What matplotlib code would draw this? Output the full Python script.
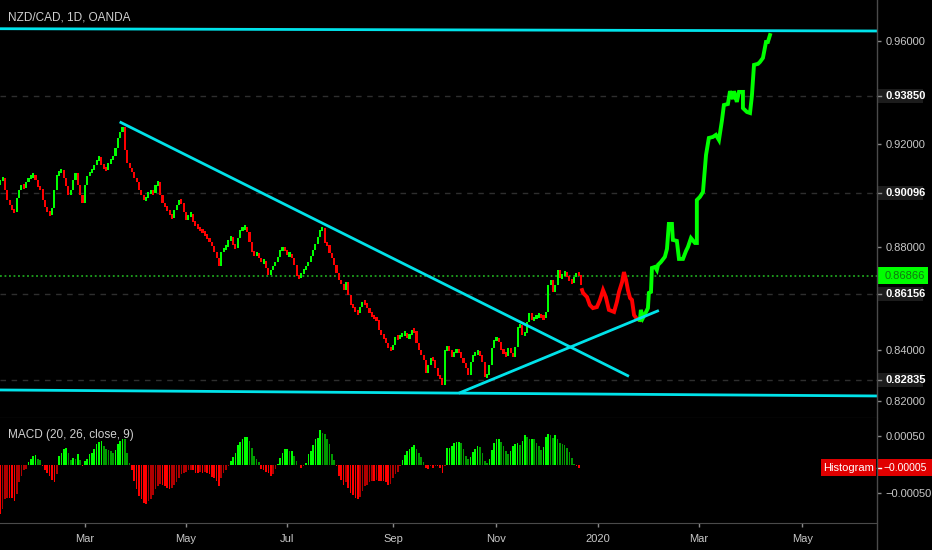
import numpy as np
import pandas as pd
import matplotlib.pyplot as plt
import matplotlib.transforms as mtransforms
from matplotlib.patches import Rectangle
from matplotlib.lines import Line2D

plt.rcParams['font.family'] = ['Liberation Sans', 'DejaVu Sans']

# daily closes, NZD/CAD (first bar = 2019-01-10)
first_open = 0.9040
closes = np.array([
    0.9059, 0.9067, 0.9020, 0.8981, 0.8962, 0.8942, 0.8934, 0.8989, 0.9020, 0.9039,
    0.9028, 0.9051, 0.9067, 0.9074, 0.9078, 0.9059, 0.9032, 0.9024, 0.8981, 0.8954,
    0.8934, 0.8923, 0.8950, 0.9020, 0.9078, 0.9090, 0.9098, 0.9067, 0.9035, 0.9001,
    0.9020, 0.9059, 0.9086, 0.9039, 0.9001, 0.8969, 0.9039, 0.9074, 0.9090, 0.9098,
    0.9117, 0.9136, 0.9148, 0.9117, 0.9105, 0.9098, 0.9125, 0.9136, 0.9152, 0.9183,
    0.9222, 0.9245, 0.9265, 0.9175, 0.9125, 0.9105, 0.9090, 0.9067, 0.9051, 0.9020,
    0.9001, 0.8981, 0.8989, 0.9012, 0.9012, 0.9008, 0.9039, 0.9051, 0.9001, 0.8969,
    0.8954, 0.8942, 0.8923, 0.8911, 0.8942, 0.8962, 0.8981, 0.8969, 0.8934, 0.8903,
    0.8923, 0.8927, 0.8896, 0.8884, 0.8872, 0.8865, 0.8857, 0.8845, 0.8833, 0.8818,
    0.8802, 0.8779, 0.8756, 0.8725, 0.8779, 0.8795, 0.8798, 0.8826, 0.8837, 0.8806,
    0.8795, 0.8833, 0.8865, 0.8872, 0.8876, 0.8857, 0.8818, 0.8779, 0.8767, 0.8775,
    0.8756, 0.8740, 0.8744, 0.8717, 0.8690, 0.8709, 0.8725, 0.8740, 0.8760, 0.8787,
    0.8795, 0.8787, 0.8767, 0.8771, 0.8756, 0.8729, 0.8686, 0.8678, 0.8697, 0.8709,
    0.8725, 0.8740, 0.8763, 0.8787, 0.8810, 0.8837, 0.8865, 0.8872, 0.8814, 0.8806,
    0.8775, 0.8756, 0.8729, 0.8697, 0.8670, 0.8655, 0.8631, 0.8662, 0.8612, 0.8573,
    0.8565, 0.8546, 0.8542, 0.8565, 0.8585, 0.8581, 0.8561, 0.8542, 0.8530, 0.8523,
    0.8515, 0.8476, 0.8456, 0.8445, 0.8425, 0.8406, 0.8398, 0.8418, 0.8449, 0.8445,
    0.8453, 0.8460, 0.8464, 0.8445, 0.8456, 0.8476, 0.8472, 0.8425, 0.8398, 0.8379,
    0.8359, 0.8309, 0.8340, 0.8367, 0.8359, 0.8328, 0.8297, 0.8289, 0.8262, 0.8398,
    0.8410, 0.8398, 0.8371, 0.8390, 0.8398, 0.8390, 0.8367, 0.8348, 0.8328, 0.8301,
    0.8352, 0.8379, 0.8387, 0.8390, 0.8379, 0.8352, 0.8293, 0.8301, 0.8340, 0.8406,
    0.8437, 0.8445, 0.8429, 0.8398, 0.8387, 0.8375, 0.8406, 0.8387, 0.8371, 0.8410,
    0.8488, 0.8495, 0.8456, 0.8464, 0.8507, 0.8542, 0.8515, 0.8523, 0.8530, 0.8534,
    0.8526, 0.8523, 0.8546, 0.8651, 0.8670, 0.8624, 0.8651, 0.8709, 0.8678, 0.8690,
    0.8701, 0.8682, 0.8670, 0.8659, 0.8682, 0.8697, 0.8690, 0.8651,
])

# MACD histogram, units of 1e-5
macd_hist_e5 = np.array([
    -86, -77, -59, -58, -58, -58, -63, -51, -31, -19,
    -10, -7, 5, 10, 16, 17, 10, 9, -2, -9,
    -14, -19, -26, -31, -17, 16, 21, 28, 30, 21,
    9, 12, 10, 19, 9, -2, 7, 10, 19, 21,
    28, 37, 40, 42, 33, 28, 26, 24, 21, 26,
    37, 42, 45, 44, 21, 3, -10, -28, -42, -54,
    -59, -66, -68, -63, -59, -52, -42, -37, -33, -35,
    -37, -40, -42, -40, -35, -31, -24, -16, -14, -12,
    -10, -9, -10, -14, -14, -12, -14, -12, -14, -16,
    -21, -24, -28, -37, -24, -14, -9, -2, 7, 14,
    21, 35, 40, 44, 49, 49, 42, 30, 16, 10,
    5, -7, -10, -12, -14, -19, -16, -7, 2, 12,
    21, 28, 28, 24, 24, 16, 7, 0, -5, -2,
    3, 19, 24, 35, 45, 47, 61, 56, 54, 45,
    37, 19, 9, -3, -19, -26, -35, -31, -40, -49,
    -52, -58, -59, -56, -45, -38, -35, -30, -28, -28,
    -26, -28, -28, -28, -30, -35, -33, -24, -16, -12,
    -3, 9, 17, 24, 28, 31, 35, 28, 21, 14,
    5, -5, -7, -3, -5, -2, -2, -5, -14, -2,
    30, 30, 33, 38, 40, 40, 38, 28, 16, 10,
    14, 23, 28, 33, 31, 21, 7, 3, 10, 26,
    38, 44, 44, 40, 33, 24, 19, 24, 33, 37,
    38, 35, 42, 51, 49, 45, 45, 44, 38, 33,
    26, 31, 49, 54, 51, 47, 52, 44, 38, 37,
    35, 30, 23, 12, 1, -2, -5,
])

# hand-drawn projection paths (x in bar number from 2019-01-07)
red_path_x = [250.4, 250.8, 252.5, 253.7, 255.0, 256.7, 258.0, 259.3, 260.5, 261.8, 264.0,
              265.2, 266.1, 267.4, 268.2, 269.1, 269.9, 270.8, 271.6, 272.5, 273.7, 275.0]
red_path_y = [0.8631, 0.8620, 0.8604, 0.8573, 0.8561, 0.8565, 0.8593, 0.8631, 0.8604, 0.8554, 0.8546,
              0.8585, 0.8624, 0.8662, 0.8701, 0.8670, 0.8631, 0.8600, 0.8593, 0.8534, 0.8519, 0.8515]
green_path_x = [275.0, 275.4, 276.3, 277.6, 278.4, 278.8, 279.7, 280.1, 281.4, 282.2, 282.7, 283.9,
                285.6, 286.5, 287.3, 288.6, 289.0, 290.7, 291.6, 293.3, 294.6, 295.4, 296.7, 298.4,
                299.2, 299.2, 300.5, 301.8, 303.1, 304.3, 306.0, 307.3, 308.6, 309.9, 310.7, 312.4,
                313.3, 314.5, 315.0, 316.2, 317.1, 318.8, 318.8, 320.5, 321.8, 322.6, 323.5, 325.2,
                326.0, 327.3, 328.6, 329.4, 330.3]
green_path_y = [0.8515, 0.8554, 0.8523, 0.8546, 0.8561, 0.8620, 0.8624, 0.8717, 0.8721, 0.8709, 0.8729, 0.8740,
                0.8760, 0.8791, 0.8888, 0.8888, 0.8826, 0.8822, 0.8752, 0.8752, 0.8783, 0.8798, 0.8833, 0.8814,
                0.8814, 0.8981, 0.8993, 0.9012, 0.9156, 0.9222, 0.9226, 0.9234, 0.9214, 0.9292, 0.9350, 0.9354,
                0.9404, 0.9373, 0.9404, 0.9362, 0.9401, 0.9401, 0.9338, 0.9323, 0.9319, 0.9385, 0.9506, 0.9510,
                0.9517, 0.9533, 0.9595, 0.9595, 0.9622]

# trend lines: (x0, x1), (y0, y1)
trend_lines = [
    ((2.9, 375.8), (0.96466, 0.96377)),
    ((54.3, 269.8), (0.92822, 0.82983)),
    ((198.5, 282.5), (0.82323, 0.85497)),
    ((2.9, 375.8), (0.82428, 0.82195)),
]

price_ticks = [0.82, 0.84, 0.88, 0.92, 0.96]
level_prices = [0.93850, 0.90096, 0.86156, 0.82835]
last_price = 0.86866
macd_ticks = [0.0005, -0.0005]
macd_tick_labels = ['0.00050', '\u22120.00050']
hist_last_label = '\u22120.00005'
month_starts = ['2019-03-01', '2019-05-01', '2019-07-01', '2019-09-01',
                '2019-11-01', '2020-01-01', '2020-03-01', '2020-05-01']
month_labels = ['Mar', 'May', 'Jul', 'Sep', 'Nov', '2020', 'Mar', 'May']

GREEN = '#00ff00'
RED = '#ff0000'
CYAN = '#00e3ea'
TXT = '#c8c8c8'
TICK = '#8a8a8a'
SEP = '#4a4a4a'

bars = pd.bdate_range('2019-01-07', periods=400)
month_idx = bars.searchsorted(pd.to_datetime(month_starts))

candle_x = np.arange(3, 3 + len(closes))
opens = np.r_[first_open, closes[:-1]]
up = closes >= opens
body = np.maximum(np.abs(closes - opens), 0.0018)
mid = (opens + closes) / 2
low_side = mid - body / 2

fig = plt.figure(figsize=(9.32, 5.5), dpi=100, facecolor='black')
ax = fig.add_axes([0, 132 / 550, 877 / 932, 418 / 550], facecolor='black')
ax2 = fig.add_axes([0, 27 / 550, 877 / 932, 105 / 550], facecolor='black')

# price panel
for p in level_prices:
    ax.axhline(p, color='#2e2e2e', lw=1, ls=(0, (4, 4)), zorder=1)
ax.axhline(last_price, color='#1fa51f', lw=1.3, ls=(0, (1, 1.5)), zorder=1)

ax.bar(candle_x, body, bottom=low_side, width=0.9,
       color=np.where(up, GREEN, RED), linewidth=0, zorder=2)
ax.plot(red_path_x, red_path_y, color=RED, lw=2.8, solid_joinstyle='miter', zorder=3)
ax.plot(green_path_x, green_path_y, color=GREEN, lw=2.8, solid_joinstyle='miter', zorder=3)

for xs, ys in trend_lines:
    ax.plot(xs, ys, color=CYAN, lw=2, zorder=4)

ax.set_xlim(2.9, 375.8)
ax.set_ylim(0.81339, 0.975814)
ax.yaxis.tick_right()
ax.set_yticks(price_ticks)
ax.set_yticklabels([f'{v:.5f}' for v in price_ticks])
ax.tick_params(axis='y', colors=TICK, labelcolor=TXT, length=3, width=1, pad=3, labelsize=8)
ax.tick_params(axis='x', bottom=False, labelbottom=False)
for s in ['top', 'left', 'right']:
    ax.spines[s].set_visible(False)
ax.spines['bottom'].set_color(SEP)

trans = mtransforms.blended_transform_factory(ax.transAxes, ax.transData)
h = 14 * 0.00038856
for p in level_prices:
    ax.add_patch(Rectangle((1.0, p - h / 2), 46 / 877, h, transform=trans,
                           facecolor='#1c1c1c', edgecolor='none', clip_on=False, zorder=5))
    ax.plot([1.0, 1.0 + 4 / 877], [p, p], transform=trans, color=TICK, lw=1,
            clip_on=False, zorder=6)
    ax.text(1.0 + 8 / 877, p, f'{p:.5f}', transform=trans, color='white', fontsize=8,
            fontweight='bold', va='center', ha='left', zorder=6)

h2 = 17 * 0.00038856
ax.add_patch(Rectangle((1.0, last_price - h2 / 2), 51 / 877, h2, transform=trans,
                       facecolor=GREEN, edgecolor='none', clip_on=False, zorder=5))
ax.text(1.0 + 8 / 877, last_price, f'{last_price:.5f}', transform=trans, color='#127512',
        fontsize=8, va='center', ha='left', zorder=6)

# MACD panel
hist = macd_hist_e5 * 1e-5
prev = np.r_[hist[0], hist[:-1]]
hist_colors = np.where(hist >= 0,
                       np.where(hist >= prev, '#00ff00', '#009a00'),
                       np.where(hist <= prev, '#ff0000', '#b00000'))
ax2.bar(np.arange(3, 3 + len(hist)), hist, width=0.7, color=hist_colors, linewidth=0)

ax2.set_xlim(2.9, 375.8)
ax2.set_ylim(-0.001017, 0.000815)
ax2.yaxis.tick_right()
ax2.set_yticks(macd_ticks)
ax2.set_yticklabels(macd_tick_labels)
ax2.tick_params(axis='y', colors=TICK, labelcolor=TXT, length=3, width=1, pad=3, labelsize=8)
ax2.set_xticks(month_idx)
ax2.set_xticklabels(month_labels)
ax2.tick_params(axis='x', colors=TICK, labelcolor=TXT, length=3, width=1, pad=5, labelsize=8)
for s in ['top', 'left', 'right']:
    ax2.spines[s].set_visible(False)
ax2.spines['bottom'].set_color(SEP)

trans2 = mtransforms.blended_transform_factory(ax2.transAxes, ax2.transData)
hv = hist[-1]
hh = 17 * 1.745e-5
ax2.add_patch(Rectangle((821 / 877, hv - hh / 2), 55 / 877, hh, transform=trans2,
                        facecolor='#e00000', edgecolor='none', clip_on=False, zorder=5))
ax2.text(848.5 / 877, hv, 'Histogram', transform=trans2, color='white', fontsize=8,
         va='center', ha='center', zorder=6)
ax2.add_patch(Rectangle((1.0, hv - hh / 2), 55 / 877, hh, transform=trans2,
                        facecolor='#e00000', edgecolor='none', clip_on=False, zorder=5))
ax2.plot([1.0, 1.0 + 4 / 877], [hv, hv], transform=trans2, color='white', lw=1,
         clip_on=False, zorder=6)
ax2.text(1.0 + 6 / 877, hv, hist_last_label, transform=trans2, color='white', fontsize=7.5,
         va='center', ha='left', zorder=6)

fig.add_artist(Line2D([877 / 932, 877 / 932], [0, 1], transform=fig.transFigure,
                      color=SEP, lw=1))

fig.text(8 / 932, 1 - 17 / 550, 'NZD/CAD, 1D, OANDA', color='#d0d0d0', fontsize=8.5,
         va='center', ha='left')
fig.text(8 / 932, 1 - 435 / 550, 'MACD (20, 26, close, 9)', color='#d0d0d0', fontsize=8.5,
         va='center', ha='left')

fig.savefig('out.png', dpi=100, facecolor='black')
